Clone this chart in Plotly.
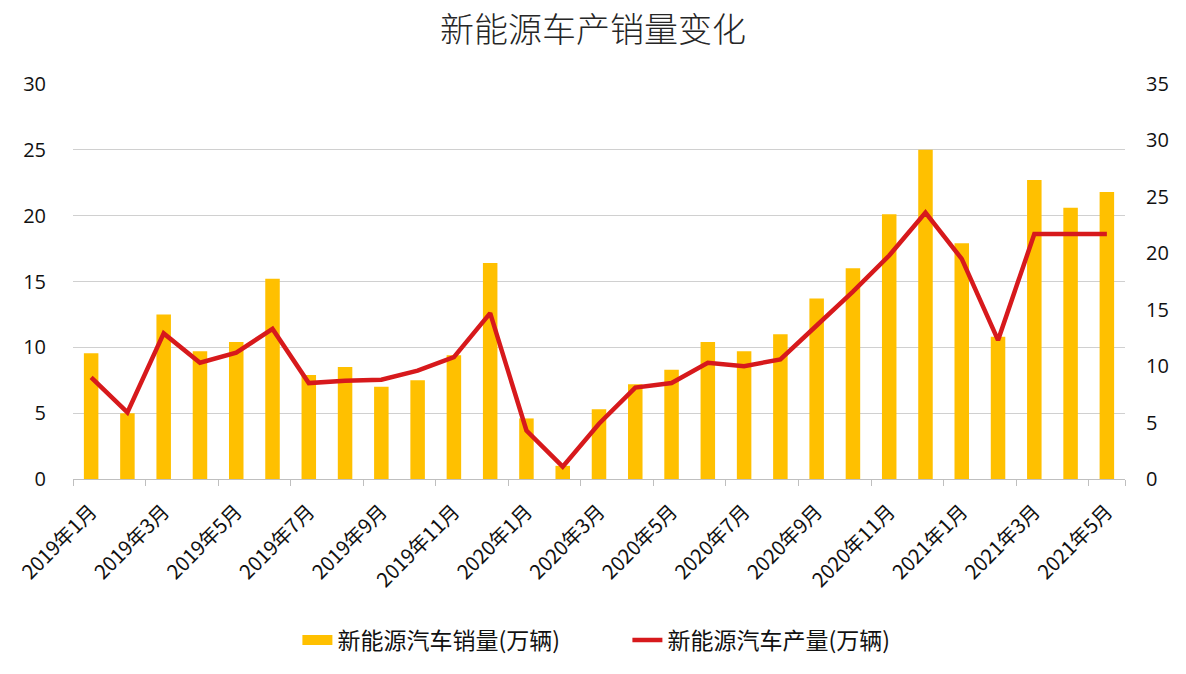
import plotly.graph_objects as go

months = [f"{y}年{m}月" for y, ms in [(2019, range(1, 13)), (2020, range(1, 13)), (2021, range(1, 6))] for m in ms]
sales = [9.55, 5.0, 12.5, 9.7, 10.4, 15.2, 7.9, 8.5, 7.0, 7.5, 9.4, 16.4,
         4.6, 1.0, 5.3, 7.2, 8.3, 10.4, 9.7, 11.0, 13.7, 16.0, 20.1, 25.0,
         17.9, 10.8, 22.7, 20.6, 21.8]
production = [9.0, 5.9, 12.9, 10.3, 11.2, 13.3, 8.5, 8.7, 8.8, 9.6, 10.8, 14.7,
              4.3, 1.1, 4.9, 8.1, 8.5, 10.3, 10.0, 10.6, 13.6, 16.6, 19.8, 23.6,
              19.5, 12.3, 21.7, 21.7, 21.7]
tick_months = months[::2]
sales_name = "新能源汽车销量(万辆)"
prod_name = "新能源汽车产量(万辆)"

font_fam = "Open Sans, Noto Sans CJK SC, sans-serif"
cjk = "Noto Sans CJK SC, sans-serif"
gold = "#FFC000"
red = "#D7191C"

fig = go.Figure()
fig.add_trace(go.Bar(x=months, y=sales, name=sales_name,
                     marker=dict(color=gold, line=dict(width=0)),
                     width=0.4, yaxis="y", showlegend=False, legendgroup="s"))
# legend entry drawn as a wide block like the reference
fig.add_trace(go.Scatter(x=[None], y=[None], name=sales_name, mode="lines",
                         line=dict(color=gold, width=13), yaxis="y", legendgroup="s"))
fig.add_trace(go.Scatter(x=months, y=production, name=prod_name,
                         mode="lines", line=dict(color=red, width=4.5),
                         yaxis="y2"))

fig.update_layout(
    width=1186, height=674,
    margin=dict(l=73, r=61, t=84, b=188),
    paper_bgcolor="white", plot_bgcolor="white",
    title=dict(text="新能源车产销量变化", x=0.5, xanchor="center", y=0.955, yanchor="middle",
               font=dict(family=cjk, size=34, color="#262626", weight=300)),
    font=dict(family=font_fam, size=19, color="#111111"),
    bargap=0.6,
    xaxis=dict(type="category", tickmode="array", tickvals=tick_months, ticktext=tick_months,
               tickangle=-45, tickson="boundaries", ticks="outside", ticklen=6,
               tickcolor="#BFBFBF", showline=True, linecolor="#BFBFBF", linewidth=1,
               showgrid=False, ticklabelstandoff=12,
               tickfont=dict(family=cjk, size=20, color="#111111")),
    yaxis=dict(range=[0, 30], dtick=5, showgrid=True, gridcolor="#D0D0D0", gridwidth=1,
               zeroline=False, ticks="", tickfont=dict(size=20), ticklabelstandoff=26),
    yaxis2=dict(range=[0, 35], dtick=5, overlaying="y", side="right", showgrid=False,
                zeroline=False, ticks="", tickfont=dict(size=20), ticklabelstandoff=20),
    legend=dict(orientation="h", x=0.527, xanchor="center", y=-0.408, yanchor="middle",
                font=dict(family=cjk, size=23, color="#111111"),
                entrywidth=285, entrywidthmode="pixels",
                traceorder="normal"),
)

fig.write_html("out.html")
